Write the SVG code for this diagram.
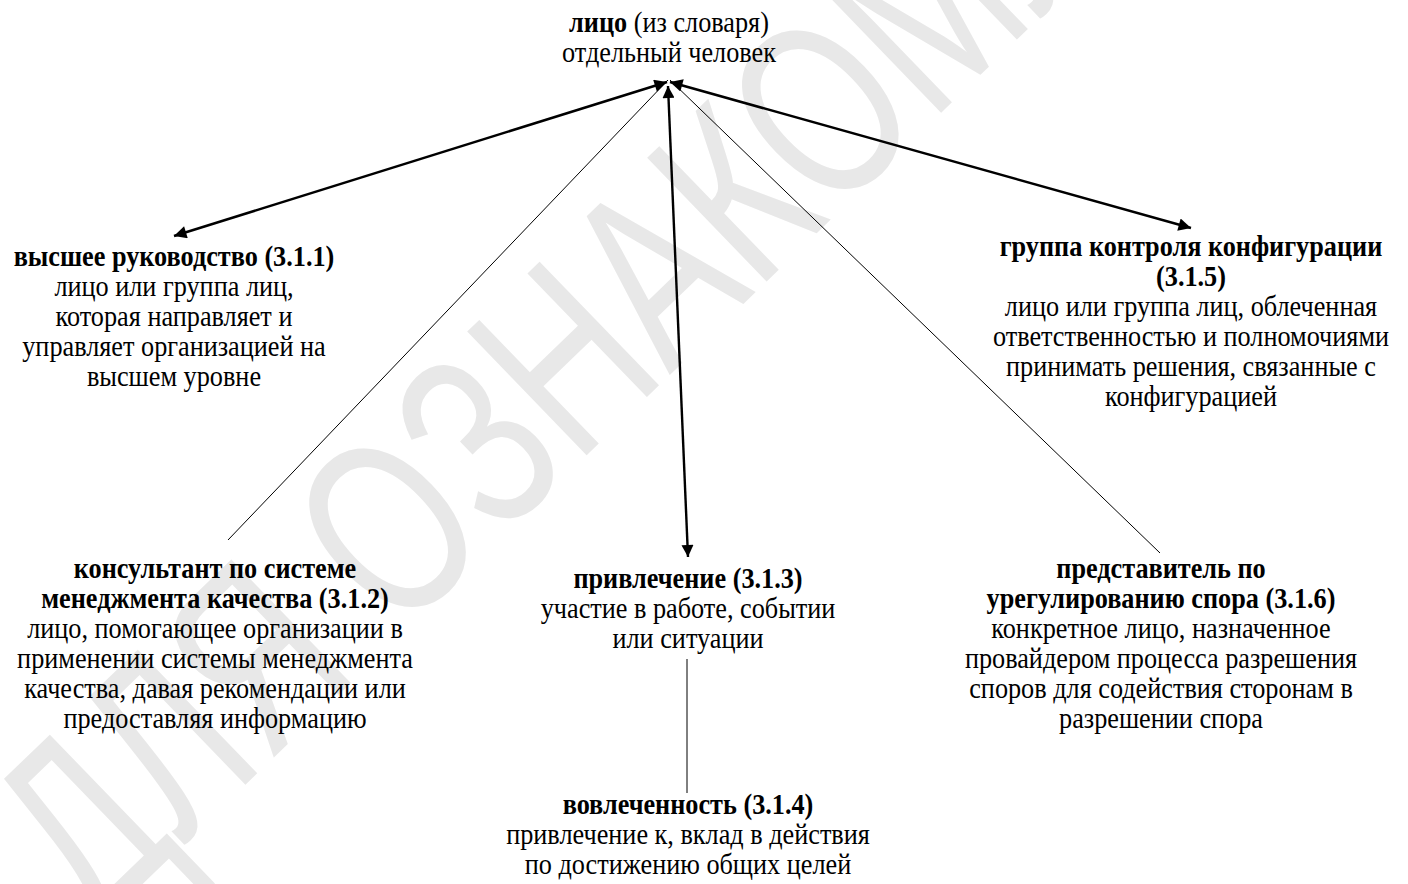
<svg xmlns="http://www.w3.org/2000/svg" width="1408" height="884" viewBox="0 0 1408 884">
<defs>
<style>
text{font-family:"Liberation Serif","Times New Roman",serif;font-size:30px;fill:#000;text-anchor:middle}
.b{font-weight:bold}
.wm{font-family:"Liberation Sans",Arial,sans-serif;font-size:250px;fill:#e8e8e8;text-anchor:start}
.thick{stroke:#000;stroke-width:2.5;fill:none}
.mid{stroke:#000;stroke-width:2.4;fill:none}
.thin{stroke:#000;stroke-width:1;fill:none}
</style>
<marker id="ah" viewBox="0 0 10 10" refX="10" refY="5" markerWidth="7" markerHeight="5" markerUnits="strokeWidth" orient="auto-start-reverse">
<path d="M0,0 L10,5 L0,10 z" fill="#000"/>
</marker>
</defs>
<rect width="1408" height="884" fill="#fff"/>
<g id="watermark">
<text class="wm" transform="translate(95,930) rotate(-44) scale(0.72,1)">ДЛЯ ОЗНАКОМЛЕНИЯ</text>
</g>
<g id="connectors">
<line class="thick" x1="667" y1="82" x2="174" y2="236" marker-start="url(#ah)" marker-end="url(#ah)"/>
<line class="thick" x1="670" y1="82" x2="1191" y2="228" marker-start="url(#ah)" marker-end="url(#ah)"/>
<line class="mid" x1="668" y1="86" x2="688" y2="557" marker-start="url(#ah)" marker-end="url(#ah)"/>
<line class="thin" x1="668" y1="80" x2="228" y2="540"/>
<line class="thin" x1="670" y1="80" x2="1160" y2="553"/>
<line class="thin" x1="687" y1="659" x2="687" y2="793"/>
</g>
<g id="n-lico" transform="translate(669,0) scale(0.875,1)">
<text x="0" y="32"><tspan class="b">лицо</tspan> (из словаря)</text>
<text x="0" y="62">отдельный человек</text>
</g>
<g id="n-311" transform="translate(174,0) scale(0.875,1)">
<text class="b" x="0" y="266">высшее руководство (3.1.1)</text>
<text x="0" y="296">лицо или группа лиц,</text>
<text x="0" y="326">которая направляет и</text>
<text x="0" y="356">управляет организацией на</text>
<text x="0" y="386">высшем уровне</text>
</g>
<g id="n-315" transform="translate(1191,0) scale(0.875,1)">
<text class="b" x="0" y="256">группа контроля конфигурации</text>
<text class="b" x="0" y="286">(3.1.5)</text>
<text x="0" y="316">лицо или группа лиц, облеченная</text>
<text x="0" y="346">ответственностью и полномочиями</text>
<text x="0" y="376">принимать решения, связанные с</text>
<text x="0" y="406">конфигурацией</text>
</g>
<g id="n-312" transform="translate(215,0) scale(0.875,1)">
<text class="b" x="0" y="578">консультант по системе</text>
<text class="b" x="0" y="608">менеджмента качества (3.1.2)</text>
<text x="0" y="638">лицо, помогающее организации в</text>
<text x="0" y="668">применении системы менеджмента</text>
<text x="0" y="698">качества, давая рекомендации или</text>
<text x="0" y="728">предоставляя информацию</text>
</g>
<g id="n-313" transform="translate(688,0) scale(0.875,1)">
<text class="b" x="0" y="588">привлечение (3.1.3)</text>
<text x="0" y="618">участие в работе, событии</text>
<text x="0" y="648">или ситуации</text>
</g>
<g id="n-316" transform="translate(1161,0) scale(0.875,1)">
<text class="b" x="0" y="578">представитель по</text>
<text class="b" x="0" y="608">урегулированию спора (3.1.6)</text>
<text x="0" y="638">конкретное лицо, назначенное</text>
<text x="0" y="668">провайдером процесса разрешения</text>
<text x="0" y="698">споров для содействия сторонам в</text>
<text x="0" y="728">разрешении спора</text>
</g>
<g id="n-314" transform="translate(688,0) scale(0.875,1)">
<text class="b" x="0" y="814">вовлеченность (3.1.4)</text>
<text x="0" y="844">привлечение к, вклад в действия</text>
<text x="0" y="874">по достижению общих целей</text>
</g>
</svg>
